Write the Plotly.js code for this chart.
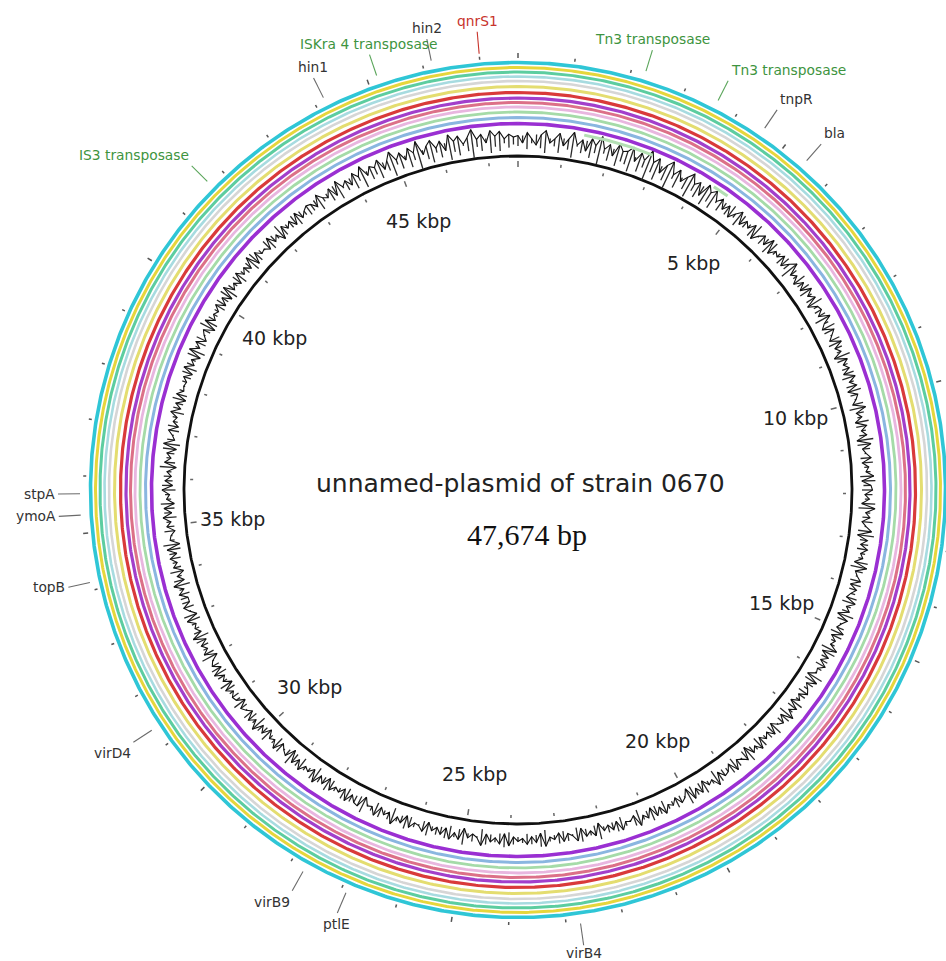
<!DOCTYPE html>
<html><head><meta charset="utf-8">
<script src="https://cdn.plot.ly/plotly-3.0.1.min.js"></script>
<style>html,body{margin:0;padding:0;background:#fff}#chart{width:946px;height:961px}</style>
</head><body><div id="chart"></div>
<script>
// ---------------- DATA ----------------
const genomeLength = 47674;
const genomeName = "unnamed-plasmid of strain 0670";
const genomeSizeLabel = "47,674 bp";

const scaleTickPositions = [5000, 10000, 15000, 20000, 25000, 30000, 35000, 40000, 45000];
const scaleTickLabels = ["5 kbp", "10 kbp", "15 kbp", "20 kbp", "25 kbp", "30 kbp", "35 kbp", "40 kbp", "45 kbp"];

// BLAST comparison rings, outermost first; covered segments in bp
const ringNames = ["ring 1", "ring 2", "ring 3", "ring 4", "ring 5", "ring 6", "ring 7",
                   "ring 8", "ring 9", "ring 10", "ring 11", "ring 12", "ring 13", "ring 14"];
const ringSegments = [
  [[0, 47674]], [[0, 47674]], [[0, 47674]], [[0, 47674]], [[0, 47674]], [[0, 47674]], [[0, 47674]],
  [[0, 47674]], [[0, 47674]], [[0, 47674]], [[0, 47674]], [[0, 47674]], [[0, 47674]],
  [[1400, 2900], [4350, 4700]]
];

// annotated genes (bp position) and their category
const geneNames = ["Tn3 transposase", "Tn3 transposase", "tnpR", "bla", "virB4", "ptlE", "virB9",
                   "virD4", "topB", "ymoA", "stpA", "IS3 transposase", "hin1", "ISKra 4 transposase", "hin2", "qnrS1"];
const genePositions = [2250, 3600, 4540, 5460, 22750, 26900, 27730,
                       31350, 34140, 35320, 35690, 41690, 44180, 45180, 46160, 47000];
const geneCategories = ["mobile", "mobile", "other", "other", "other", "other", "other",
                        "other", "other", "other", "other", "mobile", "other", "mobile", "other", "resistance"];

// GC content deviation (% points) in consecutive windows around the plasmid
const gcDeviation = [
  3,-2,5,1,-3,4,7,-1,2,6,-2,3,8,0,4,-3,6,2,9,1,5,-2,7,3,
  4,8,-1,6,2,10,3,7,-2,5,9,1,6,-1,4,8,2,5,-3,7,3,6,0,4,
  -2,3,-4,1,5,-3,2,-1,4,-5,0,3,-2,5,-4,1,-1,3,-3,2,6,-2,1,-4,
  2,-3,4,-1,3,-5,1,2,-2,5,-1,-4,3,0,-3,4,-2,1,-5,3,-1,2,-3,4,
  -1,3,-4,2,0,-3,5,-2,1,-4,3,-1,2,-5,4,-2,0,3,-3,1,-1,4,-4,2,
  3,-2,1,-4,5,-1,2,-3,0,4,-5,2,-2,3,-1,1,-4,5,-2,0,3,-3,2,-1,
  -3,4,-1,2,-5,3,0,-2,4,-3,1,-1,5,-4,2,-2,3,-1,0,-5,4,-2,1,3,
  -2,1,-4,3,-1,5,-3,2,0,-4,3,-2,1,-3,4,-1,2,-5,3,0,-2,4,-3,1,
  2,-3,5,-1,1,-4,3,-2,4,-5,0,2,-3,1,-1,4,-2,3,-4,2,-1,5,-3,0,
  -1,4,-3,2,-2,1,-5,3,-1,2,-4,4,0,-2,3,-3,1,-1,5,-4,2,-2,3,-1,
  1,-2,4,-4,3,-1,2,-3,5,0,-2,1,-5,3,-1,4,-3,2,-2,1,-4,3,0,-1,
  3,-4,2,-1,5,-2,1,-3,4,-1,0,-5,3,2,-2,4,-3,1,-1,3,-4,2,-2,5,
  -3,1,-1,4,-2,3,-5,2,0,-3,4,-1,1,-4,2,-2,5,-1,3,-3,0,2,-4,1,
  2,-1,3,-4,1,-2,4,-3,2,0,-5,3,-1,2,-3,5,-2,1,-1,4,-4,0,3,-2,
  -2,3,-1,5,-3,1,-4,2,-1,3,-2,4,-5,1,0,-3,2,-1,4,-2,3,-4,1,-1,
  4,-3,2,-2,1,-5,3,-1,2,-4,5,-2,0,3,-3,1,-1,4,-2,2,-4,3,-1,0,
  -1,2,-3,4,-2,1,-4,5,-1,3,-3,0,2,-5,4,-2,1,-1,3,-3,2,-4,5,-2,
  1,-3,4,-1,2,-2,5,-4,3,-1,0,-3,4,-2,1,-5,3,-1,2,-3,4,-2,1,3,
  2,-2,5,1,-1,4,-3,6,0,3,-2,5,1,7,-1,4,2,6,-2,3,8,1,5,-1,
  6,2,9,-1,4,7,1,5,-2,8,3,6,0,4,9,2,5,-1,7,3,6,1,4,2
];

// ---------------- STYLE ----------------
const style = {
  ringRadii:  [427.5, 422.5, 418, 413.5, 409, 403.5, 397.5, 392, 387.5, 383, 378, 372.5, 366.5, 361],
  ringColors: ["#2fc6d6", "#e6d63c", "#5ccda0", "#a7dbe0", "#d6d6d6", "#e4dd70", "#d93a3a",
               "#a23fcb", "#dc7088", "#e8b6df", "#a5dba8", "#8ab6e0", "#9a2fd2", "#b3dfb3"],
  ringWidths: [3.6, 3.0, 3.0, 2.6, 2.6, 3.0, 3.2, 3.2, 3.0, 2.8, 2.8, 3.0, 3.6, 3.0],
  backboneR: 334, gcBase: 350, gcScale: 1.5,
  tickOuterR: 431, tickInnerR: 327, scaleLabelR: 287,
  leaderR0: 438, leaderR1: 460,
  catColor: {mobile: "#3e9440", resistance: "#c8342c", other: "#333333"},
  leaderColor: {mobile: "#5aa55a", resistance: "#c8342c", other: "#6a6a6a"}
};

// ---------------- BUILD ----------------
function xy(bp, r) {
  const t = bp / genomeLength * 2 * Math.PI;
  return [r * Math.sin(t), r * Math.cos(t)];
}
function arc(s, e, r) {
  const xs = [], ys = [];
  const step = 40;
  for (let b = s; b < e; b += step) { const p = xy(b, r); xs.push(p[0]); ys.push(p[1]); }
  const p = xy(e, r); xs.push(p[0]); ys.push(p[1]);
  return [xs, ys];
}

const traces = [];

// backbone
{
  const a = arc(0, genomeLength, style.backboneR);
  traces.push({type: "scatter", mode: "lines", x: a[0], y: a[1], line: {color: "#111", width: 2.8}, hoverinfo: "skip"});
}

// inner ticks every 1 kbp
{
  const xs = [], ys = [];
  for (let b = 0; b < genomeLength; b += 1000) {
    const major = b % 5000 === 0;
    const p0 = xy(b, style.tickInnerR - (major ? 4 : 2)), p1 = xy(b, style.tickInnerR + (major ? 2 : 1));
    xs.push(p0[0], p1[0], null); ys.push(p0[1], p1[1], null);
  }
  traces.push({type: "scatter", mode: "lines", x: xs, y: ys, line: {color: "#666", width: 1.5}, hoverinfo: "skip"});
}
// outer ticks every 1 kbp
{
  const xs = [], ys = [];
  for (let b = 0; b < genomeLength; b += 1000) {
    const major = b % 5000 === 0;
    const p0 = xy(b, style.tickOuterR + 1), p1 = xy(b, style.tickOuterR + (major ? 6 : 4));
    xs.push(p0[0], p1[0], null); ys.push(p0[1], p1[1], null);
  }
  traces.push({type: "scatter", mode: "lines", x: xs, y: ys, line: {color: "#555", width: 1.5}, hoverinfo: "skip"});
}

// GC content: radial spikes across the baseline plus a line through the tips
{
  const n = gcDeviation.length;
  const sx = [], sy = [], lx = [], ly = [];
  for (let i = 0; i <= n; i++) {
    const v = gcDeviation[i % n];
    const b = (i % n) * genomeLength / n;
    const p = xy(b, style.gcBase + v * style.gcScale);
    lx.push(p[0]); ly.push(p[1]);
    if (i < n) {
      const q = xy(b, style.gcBase - v * style.gcScale - (v >= 0 ? 1.5 : -1.5));
      sx.push(q[0], p[0], null); sy.push(q[1], p[1], null);
    }
  }
  traces.push({type: "scatter", mode: "lines", x: sx, y: sy, line: {color: "#2a2a2a", width: 1.3}, hoverinfo: "skip"});
  traces.push({type: "scatter", mode: "lines", x: lx, y: ly, line: {color: "#111", width: 1.1}, hoverinfo: "skip", name: "GC content"});
}

// rings
ringNames.forEach((nm, i) => {
  const xs = [], ys = [];
  ringSegments[i].forEach(seg => {
    const a = arc(seg[0], seg[1], style.ringRadii[i]);
    xs.push(...a[0], null); ys.push(...a[1], null);
  });
  traces.push({type: "scatter", mode: "lines", x: xs, y: ys, name: nm,
    line: {color: style.ringColors[i], width: style.ringWidths[i]}, hoverinfo: "skip"});
});

// gene leader lines
["mobile", "resistance", "other"].forEach(cat => {
  const xs = [], ys = [];
  geneNames.forEach((g, i) => {
    if (geneCategories[i] !== cat) return;
    const p0 = xy(genePositions[i], style.leaderR0), p1 = xy(genePositions[i], style.leaderR1);
    xs.push(p0[0], p1[0], null); ys.push(p0[1], p1[1], null);
  });
  traces.push({type: "scatter", mode: "lines", x: xs, y: ys, line: {color: style.leaderColor[cat], width: 1.1}, hoverinfo: "skip"});
});

const annotations = [];
// gene labels
geneNames.forEach((g, i) => {
  const deg = genePositions[i] / genomeLength * 360;
  const p = xy(genePositions[i], style.leaderR1 + 1);
  let xa = "center", ya = "bottom";
  if (deg >= 27 && deg < 155) xa = "left";
  else if (deg >= 205 && deg < 333) xa = "right";
  if (deg > 155 && deg < 205) ya = "top";
  else if ((deg >= 60 && deg <= 120) || (deg >= 240 && deg <= 300)) ya = "middle";
  else if (deg > 90 && deg < 270) ya = "top";
  annotations.push({x: p[0], y: p[1], xref: "x", yref: "y", text: g, showarrow: false,
    xanchor: xa, yanchor: ya, yshift: (deg > 165 && deg < 180) ? 3 : 0,
    font: {family: "DejaVu Sans", size: 13.8, color: style.catColor[geneCategories[i]]}});
});
// scale labels
scaleTickPositions.forEach((b, i) => {
  const p = xy(b, style.scaleLabelR);
  annotations.push({x: p[0], y: p[1], xref: "x", yref: "y", text: scaleTickLabels[i], showarrow: false,
    xanchor: "center", yanchor: "middle", font: {family: "DejaVu Sans", size: 19, color: "#222"}});
});
// centre titles
annotations.push({x: 2, y: 7, xref: "x", yref: "y", text: genomeName, showarrow: false,
  xanchor: "center", yanchor: "middle", font: {family: "DejaVu Sans", size: 25, color: "#222"}});
annotations.push({x: 9, y: -44, xref: "x", yref: "y", text: genomeSizeLabel, showarrow: false,
  xanchor: "center", yanchor: "middle", font: {family: "Liberation Serif", size: 30, color: "#111"}});

const layout = {
  width: 946, height: 961,
  margin: {l: 0, r: 0, t: 0, b: 0},
  paper_bgcolor: "#fff", plot_bgcolor: "#fff",
  showlegend: false,
  xaxis: {range: [-518, 428], visible: false, fixedrange: true},
  yaxis: {range: [-471, 490], visible: false, fixedrange: true},
  annotations: annotations
};
Plotly.newPlot("chart", traces, layout, {displayModeBar: false, staticPlot: true});
</script>
</body></html>
